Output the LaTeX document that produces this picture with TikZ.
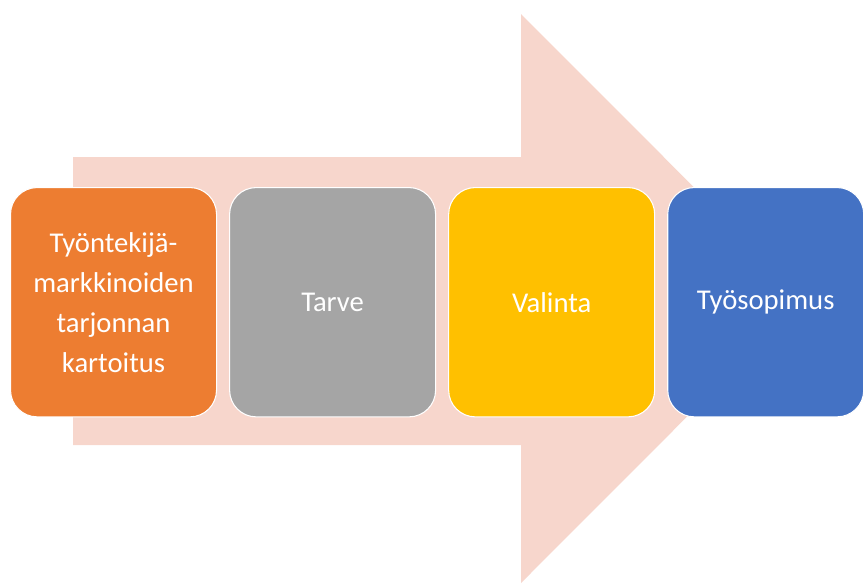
\documentclass[tikz,border=0pt]{standalone}
\usepackage{fontspec}
\setmainfont{Carlito}
\usepackage{tikz}
\usetikzlibrary{positioning}
\definecolor{arrowpink}{HTML}{F7D6CC}
\definecolor{boxorange}{HTML}{ED7D31}
\definecolor{boxgrey}{HTML}{A5A5A5}
\definecolor{boxyellow}{HTML}{FFC000}
\definecolor{boxblue}{HTML}{4472C4}
\tikzset{
  phase box/.style={
    draw=white,
    line width=0.8pt,
    rounded corners=20pt,
    minimum width=154.5pt,
    minimum height=172pt,
    text width=140pt,
    align=center,
    inner sep=0pt,
    text=white,
    font=\fontsize{21.5}{30}\selectfont
  }
}

\begin{document}
\begin{tikzpicture} [x=0.75pt, y=-0.75pt, node distance=9pt]%[px units]
 \useasboundingbox (0,0) rectangle (864,583);
 \fill[arrowpink] (73,157) -- (521,157) -- (521,14) -- (805,298.5)
   -- (521,583) -- (521,445) -- (73,445) -- cycle;
 \node[phase box,fill=boxorange,anchor=north west] (kartoitus) at (10,187)
   {Työntekijä-\\markkinoiden\\tarjonnan\\kartoitus};
 \node[phase box,fill=boxgrey] (tarve) [right=of kartoitus] {Tarve};
 \node[phase box,fill=boxyellow] (valinta) [right=of tarve] {Valinta};
 \node[phase box,fill=boxblue,minimum width=147pt] (sopimus) [right=of valinta] {Työsopimus};
\end{tikzpicture}
\end{document}
